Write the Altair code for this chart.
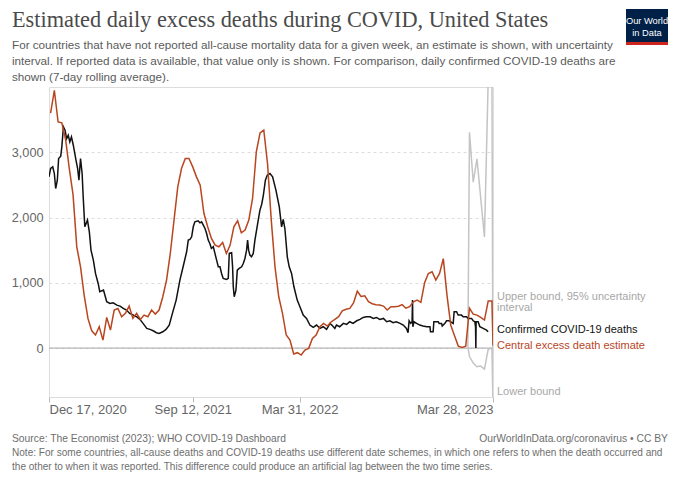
import altair as alt
import pandas as pd

# ---------------- data ----------------
START = "2020-12-17"

# Confirmed COVID-19 deaths (7-day avg): day offset from START, value
black_days = [0, 3, 7, 10, 12.5, 15.6, 18, 22, 24, 27, 30, 33, 36, 39, 42, 45.5, 50.5, 53.6, 56, 59,
              62, 64, 67, 72, 75.5, 78.6, 83, 87, 92, 95, 102, 108, 114, 120, 127, 133, 139, 145, 151, 158,
              164, 170, 176, 183, 189, 195, 201, 206, 213, 219, 225, 231, 238, 245, 251, 257.6, 260.7, 263.8, 267, 270,
              273, 279, 282.5, 285.6, 288.8, 292, 295, 298, 301, 304, 307.5, 310.6, 313.7, 316.8, 320, 323, 326, 332.4, 335.5, 337.4,
              341.8, 343.6, 344.9, 346.7, 349.9, 352.4, 356, 360.5, 363.6, 366.7, 369.8, 371.7, 373.6, 376, 379, 382.3, 385.4, 388.5, 391.6, 394.8,
              398, 401, 405, 408.5, 413.5, 418.5, 424.7, 431, 435.3, 438.4, 441.5, 446, 449.6, 454, 458.4, 464.6, 469.6, 475.8, 482, 488.3,
              494.5, 500.8, 507, 513.3, 519.5, 526, 531, 535, 538, 544, 551, 557, 563, 569, 576, 582, 588, 594, 601, 607,
              613, 619, 626, 632, 638, 644, 650, 657, 663, 669, 672, 674, 677, 679.5, 680.4, 681, 683, 688, 694, 700,
              707, 713, 714, 719, 720.3, 728.4, 730.3, 734.7, 736, 741, 744, 749, 753.4, 756.5, 758.3, 762.8, 765.8, 772, 775.2, 781.5,
              784.5, 790.8, 793.9, 797, 798.3, 798.9, 799.4, 803.2, 806.4, 812.6, 818.9, 821.9]
black_vals = [2623, 2751, 2777, 2674, 2445, 2572, 2904, 2940, 3083, 3389, 3338, 3210, 3261, 3159, 3236, 3108, 2879, 2751, 2572, 2904,
              2674, 2317, 1858, 1960, 1781, 1501, 1347, 1143, 990, 863, 888, 709, 684, 694, 658, 643, 607, 582, 531, 505,
              480, 439, 378, 301, 286, 265, 235, 225, 250, 286, 352, 531, 735, 1041, 1245, 1475, 1654, 1664, 1705, 1858,
              1934, 1950, 1919, 1934, 1883, 1832, 1756, 1654, 1603, 1526, 1552, 1450, 1347, 1245, 1245, 1143, 1067, 1051, 1067, 1450,
              1460, 1245, 939, 786, 888, 1194, 1220, 1245, 1296, 1373, 1500, 1654, 1500, 1424, 1398, 1450, 1654, 1807, 1960, 2113,
              2200, 2330, 2572, 2649, 2674, 2623, 2419, 2164, 1858, 1970, 1832, 1398, 1245, 1143, 939, 735, 633, 505, 454, 352,
              316, 352, 301, 327, 286, 378, 337, 301, 352, 326, 378, 362, 403, 378, 418, 439, 469, 480, 480, 454,
              469, 439, 454, 403, 418, 388, 403, 378, 352, 301, 235, 418, 378, 400, 735, 326, 403, 378, 352, 337,
              326, 326, 250, 250, 403, 403, 378, 378, 337, 378, 418, 418, 393, 378, 556, 556, 505, 505, 480, 480,
              454, 454, 418, 403, 326, 0, 403, 403, 326, 301, 275, 250]

# Central excess death estimate: weekly, first week ending 2020-12-20
red_start = "2020-12-20"
red_vals = [3600, 3950, 3466, 3450, 3200, 2750, 2350, 1550, 1245, 800,
            450, 265, 200, 327, 122, 470, 276, 582, 607, 480,
            531, 643, 454, 531, 439, 505, 480, 582, 520, 582,
            786, 1041, 1449, 1960, 2470, 2751, 2904, 2904, 2776, 2623,
            2496, 2062, 1858, 1679, 1577, 1552, 1618, 1449, 1577, 1858,
            1950, 1766, 1807, 1960, 2292, 3006, 3297, 3338, 2828, 1960,
            1245, 786, 531, 199, 122, -92, -71, -107, -31, -5,
            148, 199, 327, 378, 337, 400, 440, 480, 570, 595,
            607, 690, 870, 790, 800, 710, 680, 665, 658, 643,
            582, 633, 633, 640, 665, 610, 633, 709, 735, 700,
            1000, 1143, 1169, 1041, 1143, 1370, 800, 350, 190, 30,
            10, 30, 610, 520, 505, 470, 429, 720, 720]
red_last_date = "2023-03-28"
red_last_val = 40

# 95% uncertainty interval (only for the latest weeks): day offset from START
bound_days = [784, 787, 794, 801, 808, 815, 822, 829, 831]
upper_vals = [20, 3307, 2541, 2899, 2300, 1700, 4100, 4200, -900]
lower_vals = [20, -130, -230, -286, -276, -322, -20, 0, -900]

x_ticks = [(2020, 12, 17), (2021, 9, 12), (2022, 3, 31), (2023, 3, 28)]
y_ticks = [0, 1000, 2000, 3000]

# ---------------- build tables ----------------
start = pd.Timestamp(START)
black_df = pd.DataFrame({"date": start + pd.to_timedelta(black_days, unit="D"), "value": black_vals})
red_dates = list(pd.date_range(red_start, periods=len(red_vals), freq="7D")) + [pd.Timestamp(red_last_date)]
red_df = pd.DataFrame({"date": red_dates, "value": red_vals + [red_last_val]})
upper_df = pd.DataFrame({"date": start + pd.to_timedelta(bound_days, unit="D"), "value": upper_vals})
lower_df = pd.DataFrame({"date": start + pd.to_timedelta(bound_days, unit="D"), "value": lower_vals})
zero_df = pd.DataFrame({"value": [0]})
one = pd.DataFrame({"d": [0]})

FONT = "Liberation Sans"
RED = "#b8461f"
GRAY_LINE = "#c4c4c4"

xscale = alt.Scale(domain=[alt.DateTime(year=2020, month=12, date=17),
                           alt.DateTime(year=2023, month=3, date=28)])
yscale = alt.Scale(domain=[-750, 4000], nice=False, zero=False)

x_enc = alt.X("date:T", scale=xscale, axis=alt.Axis(
    values=[alt.DateTime(year=y, month=m, date=d) for (y, m, d) in x_ticks],
    format="%b %-d, %Y", labelFlush=True, labelOverlap=False, grid=False, domain=False,
    tickColor="#bbb", tickSize=5, labelFontSize=13, labelColor="#666", labelFont=FONT,
    labelPadding=1, title=None))
y_enc = alt.Y("value:Q", scale=yscale, axis=alt.Axis(
    values=y_ticks, format=",.0f", grid=True, gridDash=[3, 3], gridColor="#dddddd",
    ticks=False, domain=False, labelColor="#666", labelFontSize=12.7, labelFont=FONT,
    labelPadding=6, title=None))


def line(df, color):
    return alt.Chart(df).mark_line(color=color, strokeWidth=1.5, clip=True).encode(x=x_enc, y=y_enc)


zero_rule = alt.Chart(zero_df).mark_rule(color="#a6a6a6", strokeWidth=1).encode(
    y=alt.Y("value:Q", scale=yscale))

# positions of texts are page pixels relative to the plot origin (49, 87)
OX, OY = 49, 87


def txt(s, x, y, size, color, align="left", font=FONT, weight="normal"):
    return alt.Chart(one).mark_text(text=s, align=align, baseline="middle", fontSize=size,
                                    color=color, font=font, fontWeight=weight).encode(
        x=alt.value(x - OX), y=alt.value(y - OY))


def box(x1, x2, y1, y2, color):
    return alt.Chart(one).mark_rect(color=color).encode(
        x=alt.value(x1 - OX), x2=alt.value(x2 - OX), y=alt.value(y1 - OY), y2=alt.value(y2 - OY))


texts = [
    txt("Estimated daily excess deaths during COVID, United States", 12, 20, 22.3, "#4a4a4a",
        font="Liberation Serif"),
    txt("For countries that have not reported all-cause mortality data for a given week, an estimate is shown, with uncertainty",
        12, 45, 11.7, "#5b5b5b"),
    txt("interval. If reported data is available, that value only is shown. For comparison, daily confirmed COVID-19 deaths are",
        12, 61, 11.7, "#5b5b5b"),
    txt("shown (7-day rolling average).", 12, 77, 11.7, "#5b5b5b"),
    txt("Upper bound, 95% uncertainty", 497, 297, 11, "#a8a8a8"),
    txt("interval", 497, 308, 11, "#a8a8a8"),
    txt("Confirmed COVID-19 deaths", 497, 330, 11, "#111111"),
    txt("Central excess death estimate", 497, 346, 11, RED),
    txt("Lower bound", 497, 392, 11, "#a8a8a8"),
    txt("Source: The Economist (2023); WHO COVID-19 Dashboard", 12, 439, 10.3, "#6e6e6e"),
    txt("OurWorldInData.org/coronavirus • CC BY", 668, 439, 10.3, "#6e6e6e", align="right"),
    txt("Note: For some countries, all-cause deaths and COVID-19 deaths use different date schemes, in which one refers to when the death occurred and",
        12, 453, 10.05, "#6e6e6e"),
    txt("the other to when it was reported. This difference could produce an artificial lag between the two time series.",
        12, 467, 10.05, "#6e6e6e"),
    box(626, 668, 9, 42, "#002147"),
    box(626, 668, 42, 45, "#ce261e"),
    txt("Our World", 647, 20.5, 9.3, "#ffffff", align="center"),
    txt("in Data", 647, 32.5, 9.3, "#ffffff", align="center"),
]

chart = alt.layer(
    zero_rule,
    line(upper_df, GRAY_LINE),
    line(lower_df, GRAY_LINE),
    line(black_df, "#111111"),
    line(red_df, RED),
    *texts,
).properties(
    width=444, height=310,
    padding={"left": 41, "top": 79, "right": 179, "bottom": 75},
    autosize=alt.AutoSizeParams(type="none"),
).configure_view(stroke=None).configure(background="white")

chart.save("out.html", embed_options={"renderer": "svg", "actions": False})
